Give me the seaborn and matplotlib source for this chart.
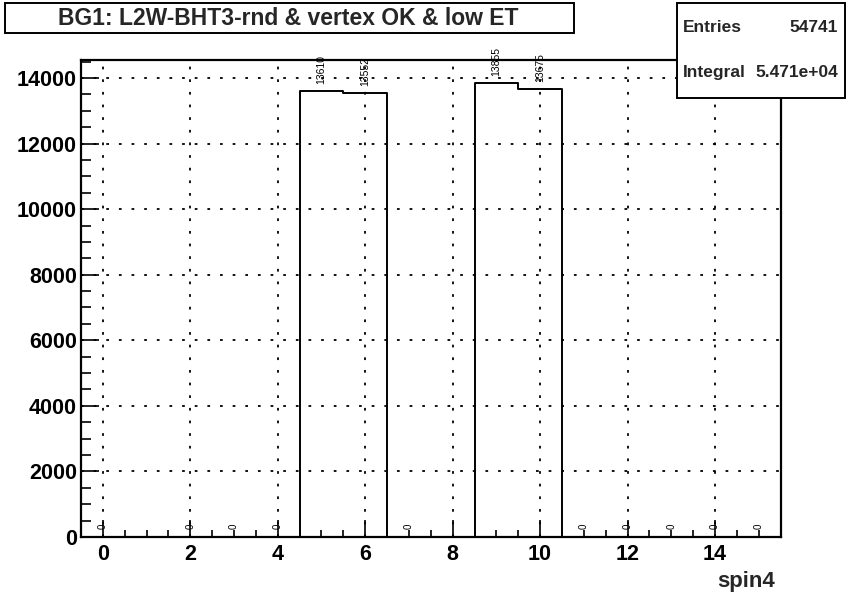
import numpy as np
import pandas as pd
import matplotlib
matplotlib.use("Agg")
import matplotlib.pyplot as plt
import seaborn as sns
from matplotlib.ticker import MultipleLocator
from matplotlib.patches import Rectangle

# ---- data ----
bin_centers = list(range(16))
counts = [0, 0, 0, 0, 0, 13610, 13552, 0, 0, 13855, 13675, 0, 0, 0, 0, 0]
zero_label_bins = [0, 2, 3, 4, 7, 11, 12, 13, 14, 15]
title_text = "BG1: L2W-BHT3-rnd & vertex OK & low ET"
x_label = "spin4"
entries = "54741"
integral = "5.471e+04"

sns.set_theme(style="white")
plt.rcParams['font.family'] = ['Liberation Sans', 'DejaVu Sans']
plt.rcParams['font.weight'] = 'bold'

fig = plt.figure(figsize=(8.46, 5.97), dpi=100)
ax = fig.add_axes([81/846, 1-537/597, (780.6-81)/846, (537-60)/597])

df = pd.DataFrame({"x": bin_centers, "w": counts})
sns.histplot(data=df, x="x", weights="w", binwidth=1, binrange=(-0.5, 15.5),
             element="step", fill=False, color="black", linewidth=1.4, ax=ax)

ax.set_xlim(-0.5, 15.5)
ax.set_ylim(0, 14548)
ax.xaxis.set_major_locator(MultipleLocator(2))
ax.xaxis.set_minor_locator(MultipleLocator(0.5))
ax.yaxis.set_major_locator(MultipleLocator(2000))
ax.yaxis.set_minor_locator(MultipleLocator(500))
ax.tick_params(axis='both', which='major', direction='in', width=1.2,
               labelsize=15.5, color='black', labelcolor='black')
ax.tick_params(axis='x', which='major', length=12, pad=5)
ax.tick_params(axis='y', which='major', length=13, pad=3)
ax.tick_params(axis='x', which='minor', direction='in', length=5, width=1.2, color='black')
ax.tick_params(axis='y', which='minor', direction='in', length=7, width=1.2, color='black')
ax.tick_params(left=True, bottom=True, which='both')
for lab in ax.get_xticklabels() + ax.get_yticklabels():
    lab.set_fontweight('bold')

ax.grid(True, which='major', linestyle=(0, (1.5, 5.5)), color='black', linewidth=1.3)
ax.set_axisbelow(True)
for s in ax.spines.values():
    s.set_color('black')
    s.set_linewidth(1.6)

ax.set_xlabel("")
ax.set_ylabel("")

# value labels
for c, v in zip(bin_centers, counts):
    if v > 0:
        ax.text(c, v + 200, str(v), rotation=90, ha='center', va='bottom',
                fontsize=7.5, fontweight='normal', color='black', zorder=10)
for c in zero_label_bins:
    ax.text(c, 250, "0", rotation=90, ha='center', va='bottom',
            fontsize=7, fontweight='normal', color='black')

fig.text(775/846, 1-581/597, x_label, ha='right', va='center', fontsize=16, fontweight='bold')

# title box
fig.patches.append(Rectangle((5/846, 1-33/597), 569/846, 30/597, transform=fig.transFigure,
                             facecolor='white', edgecolor='black', linewidth=1.4, zorder=5))
fig.text(288/846, 1-18.5/597, title_text, ha='center', va='center', fontsize=16.5,
         fontweight='bold', zorder=6)

# stats box
fig.patches.append(Rectangle((677/846, 1-98/597), 168/846, 95/597, transform=fig.transFigure,
                             facecolor='white', edgecolor='black', linewidth=1.4, zorder=5))
fig.text(683/846, 1-32/597, "Entries", ha='left', va='baseline', fontsize=12.5, fontweight='bold', zorder=6)
fig.text(838/846, 1-32/597, entries, ha='right', va='baseline', fontsize=12.5, fontweight='bold', zorder=6)
fig.text(683/846, 1-77/597, "Integral", ha='left', va='baseline', fontsize=12.5, fontweight='bold', zorder=6)
fig.text(838/846, 1-77/597, integral, ha='right', va='baseline', fontsize=12.5, fontweight='bold', zorder=6)

fig.savefig("out.png", dpi=100, facecolor='white')
